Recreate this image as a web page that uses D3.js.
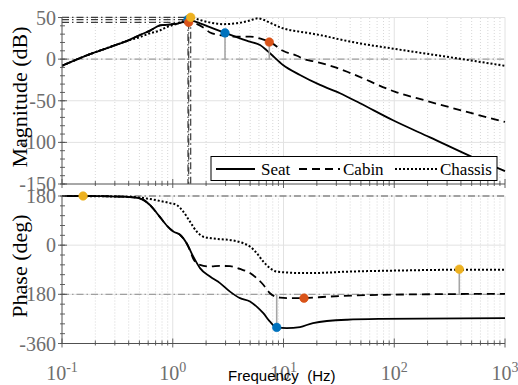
<!DOCTYPE html>
<html><head><meta charset="utf-8">
<script src="https://cdn.jsdelivr.net/npm/d3@7"></script>
<style>
html,body{margin:0;padding:0;background:#fff;}
svg{display:block;}
</style></head><body>
<svg id="chart" width="518" height="385"></svg>
<script>
// Bode diagram: seat, cabin and chassis responses with their margin markers

const seriesNames = ["Seat", "Cabin", "Chassis"];

// magnitude in dB, [frequency Hz, dB]
const magSeat = [[0.1,-8],[0.179,6],[0.271,14.5],[0.411,23.5],[0.506,29],[0.623,34.3],[0.767,40.4],[0.944,41.6],[1.163,43.4],[1.336,46.4],[1.373,47.5],[1.431,47],[1.762,43],[2.309,37],[2.964,31.5],[4.048,25],[4.983,21],[6.136,17],[7.552,7],[9.897,-7],[14.09,-19],[21.36,-31],[32.38,-41],[49.07,-53],[97.43,-73.5],[210.3,-94],[514.1,-118],[1000,-134.5]];
const magCabin = [[0.1,-8],[0.179,6],[0.271,14.5],[0.411,23.5],[0.506,29],[0.623,34.3],[0.767,40.4],[0.944,41.6],[1.163,43.2],[1.393,44.2],[1.533,43.5],[1.887,38],[2.17,32],[2.494,29.5],[2.964,28],[3.499,27],[4.983,27],[6.397,24],[7.552,20.5],[9.897,10],[13.24,4],[15.32,0],[19.25,-3],[27.99,-9],[40.69,-17],[100.9,-39],[188.3,-49.5],[1000,-75.5]];
const magChassis = [[0.1,-8],[0.179,6],[0.271,14.5],[0.411,23],[0.506,26.5],[0.623,31],[0.767,34.5],[0.887,38.6],[1.092,42.5],[1.238,45.5],[1.452,50.2],[1.762,47],[2.262,43.5],[2.843,42],[4.048,43.7],[4.983,46.5],[5.886,49],[6.532,47.5],[7.552,43.7],[9.897,37],[13.24,33.5],[17.35,31],[23.7,27.7],[27.99,25.5],[46.1,19.5],[93.47,13],[376.3,0.8],[1000,-8]];

// phase in degrees, [frequency Hz, deg]
const phaseSeat = [[0.1,180],[0.2204,179.5],[0.4404,175],[0.542,166],[0.623,147],[0.74,111],[0.882,72],[1.012,50],[1.163,38],[1.336,7],[1.533,-42],[1.762,-84],[2.17,-115],[2.671,-139],[3.288,-170],[4.048,-194],[4.983,-206],[5.728,-225],[6.572,-249],[7.552,-280],[8.683,-301],[10.69,-304],[14.09,-300],[18.47,-285],[37.45,-273],[74.33,-270],[1000,-267]];
const phaseCabin = [[0.1,180],[0.2204,179.5],[0.4404,175],[0.542,166],[0.623,147],[0.74,111],[0.882,72],[1.012,50],[1.163,38],[1.336,6],[1.45,-25],[1.533,-50],[1.645,-66],[1.762,-72],[2.17,-78],[2.671,-76],[3.288,-77],[4.048,-87],[4.983,-102],[5.728,-121],[6.572,-145],[7.552,-176],[8.379,-188],[9.299,-192],[11.45,-194],[14.09,-194],[26.3,-188],[74.33,-182],[1000,-178]];
const phaseChassis = [[0.1,180],[0.334,178],[0.506,174],[0.623,169],[0.767,162],[0.944,154],[1.086,147],[1.245,123],[1.431,86],[1.645,50],[1.887,31],[2.17,26],[2.671,22],[3.521,17],[4.335,7],[4.983,-5],[5.728,-29],[6.572,-60],[7.552,-84],[8.683,-97],[10.69,-100],[14.09,-102],[18.47,-102],[37.45,-97],[105.9,-93],[392.4,-90],[1000,-90]];

// resonance peaks (Seat, Cabin, Chassis)
const peakFreq = [1.373, 1.393, 1.452];
const peakMag = [47.5, 44.2, 50.2];
// gain margin points (Seat, Cabin)
const gmFreq = [2.964, 7.442];
const gmMag = [31.5, 20.5];
// phase margin points (Seat, Cabin, Chassis)
const pmFreq = [8.683, 15.32, 386.7];
const pmPhase = [-301, -194, -88];
// low-frequency phase point
const lowFreq = [0.155];
const lowPhase = [180];

const magTicks = [-150, -100, -50, 0, 50];
const phaseTicks = [-360, -180, 0, 180];
const freqTicks = [0.1, 1, 10, 100, 1000];
const freqExp = ["-1", "0", "1", "2", "3"];

const colors = ["#0072BD", "#D95319", "#EDB120"];
const dashes = [null, "8,5", "2,2"];

const svg = d3.select("#chart");
const x = d3.scaleLog().domain([0.1, 1000]).range([62, 505]);
const yMag = d3.scaleLinear().domain([-150, 50]).range([184, 17.5]);
const yPh = d3.scaleLinear().domain([-360, 180]).range([343.5, 196]);

const defs = svg.append("defs");
function clip(id, y) {
  defs.append("clipPath").attr("id", id).append("rect")
    .attr("x", x.range()[0]).attr("y", y.range()[1] - 6)
    .attr("width", x.range()[1] - x.range()[0] + 1)
    .attr("height", y.range()[0] - y.range()[1] + 6);
}
clip("clipMag", yMag);
clip("clipPh", yPh);

const minorFreq = x.ticks().filter(f => !freqTicks.some(t => Math.abs(t - f) / t < 1e-6));

function grid(g, y, majors) {
  const [y0, y1] = [y.range()[0], y.range()[1]];
  g.selectAll(".vmin").data(minorFreq).join("line")
    .attr("x1", d => x(d)).attr("x2", d => x(d)).attr("y1", y0).attr("y2", y1)
    .attr("stroke", "#cdcdcd").attr("stroke-width", 0.8).attr("stroke-dasharray", "1,2");
  g.selectAll(".vmaj").data(freqTicks.slice(1)).join("line")
    .attr("x1", d => x(d)).attr("x2", d => x(d)).attr("y1", y0).attr("y2", y1)
    .attr("stroke", "#e2e2e2").attr("stroke-width", 1);
  g.selectAll(".hmaj").data(majors.filter(v => y(v) < y0 - 1)).join("line")
    .attr("x1", x.range()[0]).attr("x2", x.range()[1]).attr("y1", d => y(d)).attr("y2", d => y(d))
    .attr("stroke", "#e2e2e2").attr("stroke-width", 1);
}

function refLine(g, x1, x2, y1, y2, color) {
  g.append("line").attr("x1", x1).attr("x2", x2).attr("y1", y1).attr("y2", y2)
    .attr("stroke", color).attr("stroke-width", 1.2).attr("stroke-dasharray", "7,3,1.5,3");
}

function curves(g, y, sets, clipId) {
  const line = d3.line().x(d => x(d[0])).y(d => y(d[1])).curve(d3.curveMonotoneX);
  const cg = g.append("g").attr("clip-path", `url(#${clipId})`);
  sets.forEach((data, i) => {
    cg.append("path").attr("d", line(data)).attr("fill", "none")
      .attr("stroke", "#000").attr("stroke-width", i === 2 ? 2 : 1.8)
      .attr("stroke-dasharray", dashes[i]);
  });
}

function marker(g, cx, cy, color) {
  g.append("circle").attr("cx", cx).attr("cy", cy).attr("r", 4.3)
    .attr("fill", color).attr("stroke", color).attr("stroke-width", 0.6);
}
function stem(g, cx, ya, yb) {
  g.append("line").attr("x1", cx).attr("x2", cx).attr("y1", ya).attr("y2", yb)
    .attr("stroke", "#a6a6a6").attr("stroke-width", 1.6);
}

function axes(g, y, majors, minorStep) {
  const [xl, xr] = x.range();
  const yb = y.range()[0], yt = y.range()[1];
  const ax = "#505050";
  g.append("line").attr("x1", xl).attr("x2", xl).attr("y1", yb).attr("y2", yt).attr("stroke", ax).attr("stroke-width", 1);
  g.append("line").attr("x1", xl).attr("x2", xr).attr("y1", yb).attr("y2", yb).attr("stroke", ax).attr("stroke-width", 1);
  const d = y.domain();
  const minors = d3.range(d[0], d[1] + 0.001, minorStep);
  g.selectAll(".ymin").data(minors).join("line")
    .attr("x1", xl - 2).attr("x2", xl + 3).attr("y1", v => y(v)).attr("y2", v => y(v))
    .attr("stroke", ax).attr("stroke-width", 0.9);
  g.selectAll(".ymaj").data(majors).join("line")
    .attr("x1", xl - 4).attr("x2", xl + 5).attr("y1", v => y(v)).attr("y2", v => y(v))
    .attr("stroke", ax).attr("stroke-width", 0.9);
  g.selectAll(".xmin").data(minorFreq).join("line")
    .attr("x1", f => x(f)).attr("x2", f => x(f)).attr("y1", yb + 2).attr("y2", yb - 3)
    .attr("stroke", ax).attr("stroke-width", 0.9);
  g.selectAll(".xmaj").data(freqTicks).join("line")
    .attr("x1", f => x(f)).attr("x2", f => x(f)).attr("y1", yb + 4).attr("y2", yb - 5)
    .attr("stroke", ax).attr("stroke-width", 0.9);
  g.selectAll(".ylab").data(majors).join("text")
    .attr("x", 56).attr("y", v => y(v) + 7).attr("text-anchor", "end")
    .attr("font-family", "'Liberation Serif','Times New Roman',serif").attr("font-size", 20)
    .attr("fill", "#6e6e6e").text(v => v);
}

// ---------- magnitude panel ----------
const gm = svg.append("g");
grid(gm, yMag, magTicks);
refLine(gm, x(0.1), x(1000), yMag(0), yMag(0), "#a0a0a0");
peakFreq.forEach((f, i) => {
  refLine(gm, x(0.1), x(f), yMag(peakMag[i]), yMag(peakMag[i]), "#3c3c3c");
  refLine(gm, x(f), x(f), yMag(peakMag[i]), yMag(-150), "#3c3c3c");
});
curves(gm, yMag, [magSeat, magCabin, magChassis], "clipMag");
gmFreq.forEach((f, i) => stem(gm, x(f), yMag(0), yMag(gmMag[i])));
gmFreq.forEach((f, i) => marker(gm, x(f), yMag(gmMag[i]), colors[i]));
peakFreq.forEach((f, i) => marker(gm, x(f), yMag(peakMag[i]), colors[i]));
axes(gm, yMag, magTicks, 10);

// legend
const lg = svg.append("g");
lg.append("rect").attr("x", 211).attr("y", 156.5).attr("width", 286).attr("height", 24)
  .attr("fill", "#fff").attr("stroke", "#000").attr("stroke-width", 1);
const legendItems = [
  {x1: 216, x2: 255, tx: 261},
  {x1: 299, x2: 340, tx: 343},
  {x1: 395, x2: 437, tx: 440}
];
legendItems.forEach((it, i) => {
  lg.append("line").attr("x1", it.x1).attr("x2", it.x2).attr("y1", 169).attr("y2", 169)
    .attr("stroke", "#000").attr("stroke-width", i === 2 ? 2 : 1.8).attr("stroke-dasharray", dashes[i]);
  lg.append("text").attr("x", it.tx).attr("y", 175)
    .attr("font-family", "'Liberation Serif','Times New Roman',serif").attr("font-size", 17)
    .attr("fill", "#000").text(seriesNames[i]);
});

// ---------- phase panel ----------
const gp = svg.append("g");
grid(gp, yPh, phaseTicks);
refLine(gp, x(0.1), x(1000), yPh(-180), yPh(-180), "#a0a0a0");
refLine(gp, x(0.1), x(1000), yPh(180), yPh(180), "#555555");
curves(gp, yPh, [phaseSeat, phaseCabin, phaseChassis], "clipPh");
pmFreq.forEach((f, i) => stem(gp, x(f), yPh(-180), yPh(pmPhase[i])));
pmFreq.forEach((f, i) => marker(gp, x(f), yPh(pmPhase[i]), colors[i]));
lowFreq.forEach((f, i) => marker(gp, x(f), yPh(lowPhase[i]), colors[2]));
axes(gp, yPh, phaseTicks, 36);

// frequency tick labels
svg.selectAll(".xlab").data(freqTicks).join("text")
  .attr("x", f => x(f)).attr("y", 380).attr("text-anchor", "middle")
  .attr("font-family", "'Liberation Serif','Times New Roman',serif").attr("font-size", 20)
  .attr("fill", "#6e6e6e")
  .each(function(f, i) {
    const t = d3.select(this);
    t.append("tspan").text("10");
    t.append("tspan").attr("dy", -8).attr("font-size", 14).text(freqExp[i]);
  });

// axis titles
const serif = "'Liberation Serif','Times New Roman',serif";
svg.append("text").attr("transform", "translate(27,97) rotate(-90)").attr("text-anchor", "middle")
  .attr("font-family", serif).attr("font-size", 22).attr("fill", "#000").text("Magnitude (dB)");
svg.append("text").attr("transform", "translate(27,266) rotate(-90)").attr("text-anchor", "middle")
  .attr("font-family", serif).attr("font-size", 22).attr("fill", "#000").text("Phase (deg)");
svg.append("text").attr("x", 228).attr("y", 381).style("white-space", "pre")
  .attr("font-family", "'Liberation Sans',Arial,sans-serif").attr("font-size", 15)
  .attr("fill", "#000").text("Frequency  (Hz)");
</script>
</body></html>
